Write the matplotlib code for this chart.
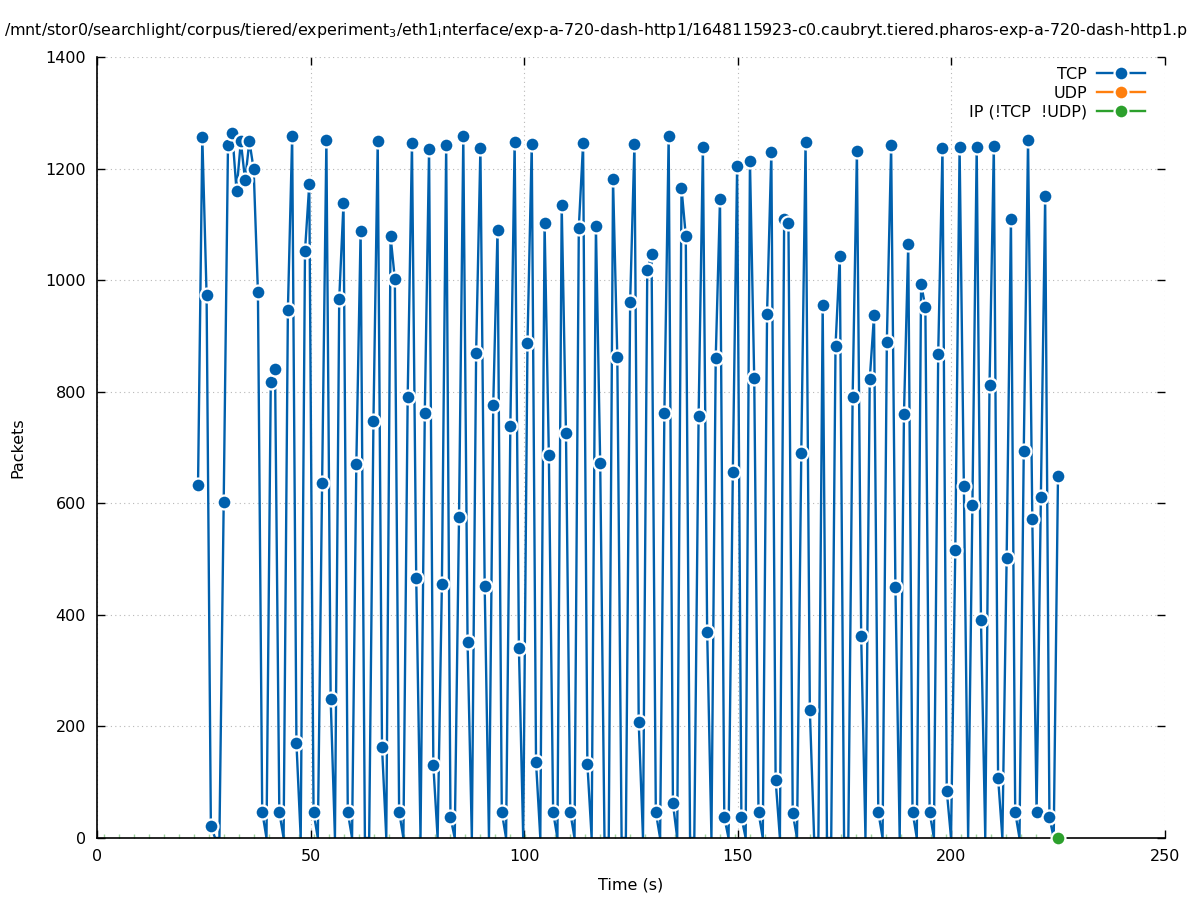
import numpy as np
import matplotlib
matplotlib.use("Agg")
import matplotlib.pyplot as plt
from matplotlib.lines import Line2D

plt.rcParams['font.family'] = ['DejaVu Sans']
plt.rcParams['mathtext.default'] = 'regular'

# ---- data ----
t_start, t_end = 23.65, 224.95
tcp_packets = [
    633, 1257, 973, 21, 0, 0, 603, 1242, 1264, 1160,
    1249, 1179, 1249, 1199, 978, 47, 0, 817, 840, 46,
    0, 946, 1258, 170, 0, 1052, 1172, 46, 0, 636,
    1251, 249, 0, 966, 1138, 46, 0, 670, 1088, 0,
    0, 747, 1249, 164, 0, 1079, 1002, 47, 0, 790,
    1245, 466, 0, 762, 1235, 130, 0, 456, 1242, 37,
    0, 575, 1258, 351, 0, 869, 1237, 451, 0, 777,
    1090, 46, 0, 738, 1248, 341, 0, 887, 1244, 136,
    0, 1102, 686, 46, 0, 1135, 726, 46, 0, 1094,
    1245, 133, 0, 1097, 672, 0, 0, 1181, 862, 0,
    0, 961, 1244, 208, 0, 1018, 1047, 46, 0, 762,
    1258, 62, 0, 1165, 1080, 0, 0, 756, 1239, 370,
    0, 860, 1145, 37, 0, 656, 1205, 37, 0, 1214,
    824, 46, 0, 940, 1230, 104, 0, 1110, 1103, 44,
    0, 690, 1247, 230, 0, 0, 955, 0, 0, 882,
    1043, 0, 0, 790, 1231, 362, 0, 822, 937, 46,
    0, 890, 1242, 450, 0, 760, 1065, 47, 0, 993,
    952, 46, 0, 867, 1236, 85, 0, 517, 1238, 631,
    0, 597, 1238, 390, 0, 812, 1240, 108, 0, 502,
    1110, 46, 0, 694, 1251, 572, 46, 611, 1150, 37,
    0, 649,
]
udp_packets = []
ip_last_time = 224.95
ip_last_value = 0

series_labels = ['TCP', 'UDP', 'IP (!TCP  !UDP)']
series_colors = ['#0060ad', '#ff7f0e', '#2ca02c']

x_ticks = [0, 50, 100, 150, 200, 250]
y_ticks = [0, 200, 400, 600, 800, 1000, 1200, 1400]

title = ('/mnt/stor0/searchlight/corpus/tiered/experiment$_3$/eth1$_i$nterface/'
         'exp-a-720-dash-http1/1648115923-c0.caubryt.tiered.pharos-exp-a-720-dash-http1.p')

FS = 11.5

# ---- figure ----
W, H = 1197, 900
fig = plt.figure(figsize=(W / 100, H / 100), dpi=100)
ax = fig.add_axes([97 / W, 62 / H, (1165 - 97) / W, (838 - 57) / H])

tcp = np.array(tcp_packets, dtype=float)
t = np.linspace(t_start, t_end, len(tcp))

ax.set_xlim(0, 250)
ax.set_ylim(0, 1400)
ax.set_xticks(x_ticks)
ax.set_yticks(y_ticks)
for s in ['top', 'right']:
    ax.spines[s].set_visible(False)
for s in ['left', 'bottom']:
    ax.spines[s].set_linewidth(1.2)
    ax.spines[s].set_zorder(6)
ax.tick_params(direction='in', length=6, width=1, top=True, right=True,
               labelsize=FS, pad=8)
ax.grid(True, linestyle=(0, (1, 3)), color='#b8b8b8', linewidth=0.8)
ax.set_axisbelow(True)

mk = dict(marker='o', markersize=10, markeredgecolor='white', markeredgewidth=1.6)

# faint IP (zero) marks along the bottom
ip_marks = np.arange(1.57, ip_last_time, 3.52)
ax.plot(ip_marks, np.zeros_like(ip_marks), linestyle='none', marker='|',
        markersize=6, color='#2ca02c', alpha=0.45, markeredgewidth=1, zorder=2)

# TCP
ax.plot(t, tcp, color=series_colors[0], linewidth=1.7, zorder=3)
tcp_m = np.where(tcp > 0, tcp, np.nan)
ax.plot(t, tcp_m, linestyle='none', color=series_colors[0],
        markerfacecolor=series_colors[0], zorder=4, **mk)

# IP last point
ax.plot([ip_last_time], [ip_last_value], linestyle='none', color=series_colors[2],
        markerfacecolor=series_colors[2], clip_on=False, zorder=7, **mk)

handles = [Line2D([], [], color=c, linewidth=1.7, markerfacecolor=c, **mk)
           for c in series_colors]
leg = ax.legend(handles, series_labels, loc='upper right', frameon=False,
                markerfirst=False, handlelength=3.0, fontsize=FS,
                labelspacing=0.24, handletextpad=0.62, borderpad=0,
                borderaxespad=0,
                bbox_to_anchor=((1145 - 97) / 1068, (838 - 67) / 781))

ax.set_xlabel('Time (s)', fontsize=FS, labelpad=10)
ax.set_ylabel('Packets', fontsize=FS, labelpad=14)
fig.text(4 / W, 1 - 30 / H, title, ha='left', va='center', fontsize=11.4)

fig.savefig('out.png', dpi=100)
